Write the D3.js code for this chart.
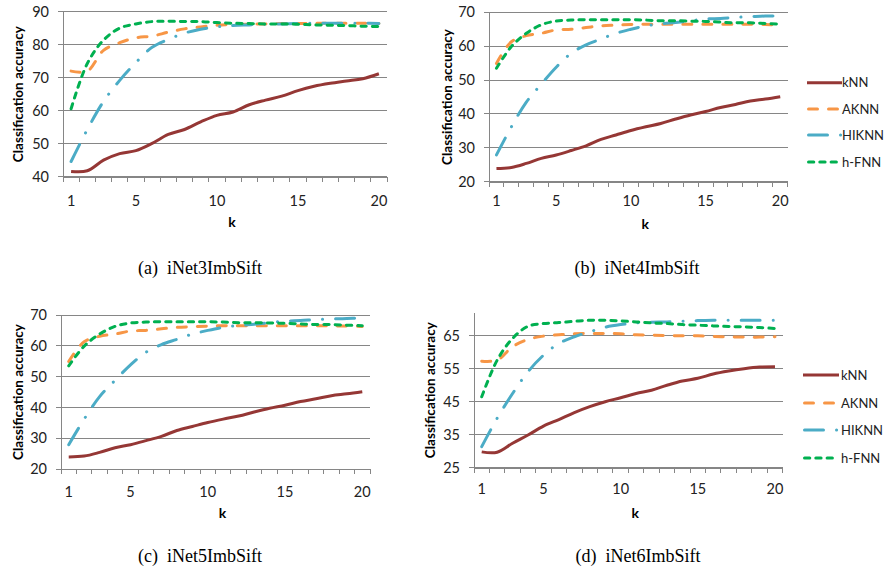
<!DOCTYPE html>
<html><head><meta charset="utf-8">
<script src="https://cdn.jsdelivr.net/npm/d3@7"></script>
<style>body{margin:0;background:#fff}svg{display:block}</style>
</head><body>
<svg id="chart" width="884" height="569"></svg>
<script>
const kValues = [1,2,3,4,5,6,7,8,9,10,11,12,13,14,15,16,17,18,19,20];
const xTickLabels = [1,5,10,15,20];
const seriesNames = ["kNN","AKNN","HIKNN","h-FNN"];

const a_kNN   = [41.6,41.8,45.0,47.0,47.9,50.1,52.8,54.3,56.6,58.6,59.6,61.8,63.2,64.4,66.1,67.4,68.3,69.0,69.7,71.2];
const a_AKNN  = [72.0,72.0,78.3,80.6,82.1,82.6,83.8,84.8,85.4,85.9,86.1,86.2,86.3,86.4,86.4,86.5,86.5,86.5,86.5,86.4];
const a_HIKNN = [44.6,54.3,62.8,69.2,74.6,79.2,81.6,83.5,84.7,85.4,85.8,86.0,86.2,86.3,86.4,86.5,86.5,86.5,86.5,86.4];
const a_hFNN  = [60.6,74.3,81.4,85.0,86.3,87.0,87.1,87.0,87.0,86.7,86.5,86.4,86.3,86.3,86.2,86.0,85.9,85.8,85.6,85.5];
const a_yTicks = [40,50,60,70,80,90];

const b_kNN   = [23.9,24.2,25.4,26.9,27.9,29.2,30.6,32.5,33.8,35.1,36.2,37.2,38.5,39.7,40.7,41.9,42.8,43.8,44.4,45.1];
const b_AKNN  = [54.9,61.3,63.1,63.8,64.8,65.0,65.5,66.0,66.2,66.4,66.5,66.5,66.5,66.5,66.5,66.5,66.5,66.5,66.4,66.3];
const b_HIKNN = [27.9,36.2,43.5,48.8,53.8,57.9,60.4,62.1,63.8,65.0,66.0,66.6,67.0,67.5,68.0,68.2,68.5,68.7,68.9,68.9];
const b_hFNN  = [53.5,59.9,63.8,66.3,67.4,67.7,67.8,67.8,67.8,67.8,67.7,67.5,67.5,67.4,67.3,67.1,66.9,66.9,66.7,66.5];
const b_yTicks = [20,30,40,50,60,70];

const c_kNN   = [23.9,24.2,25.4,26.9,27.9,29.2,30.6,32.5,33.8,35.1,36.2,37.2,38.5,39.7,40.7,41.9,42.8,43.8,44.4,45.1];
const c_AKNN  = [54.9,61.3,63.1,63.8,64.8,65.0,65.5,66.0,66.2,66.4,66.5,66.5,66.5,66.5,66.5,66.5,66.5,66.5,66.4,66.3];
const c_HIKNN = [27.9,36.2,43.5,48.8,53.8,57.9,60.4,62.1,63.8,65.0,66.0,66.6,67.0,67.5,68.0,68.2,68.5,68.7,68.9,68.9];
const c_hFNN  = [53.5,59.9,63.8,66.3,67.4,67.7,67.8,67.8,67.8,67.8,67.7,67.5,67.5,67.4,67.3,67.1,66.9,66.9,66.7,66.5];
const c_yTicks = [20,30,40,50,60,70];

const d_kNN   = [29.8,29.7,32.4,34.9,37.6,39.6,41.7,43.5,45.0,46.2,47.5,48.5,50.0,51.3,52.1,53.4,54.3,55.0,55.5,55.6];
const d_AKNN  = [57.3,57.6,61.7,63.9,64.9,65.3,65.6,65.7,65.7,65.6,65.3,65.2,65.1,65.0,65.0,64.8,64.7,64.6,64.6,64.7];
const d_HIKNN = [31.4,40.0,47.5,54.1,59.1,62.7,64.7,66.2,67.6,68.4,68.9,69.1,69.2,69.4,69.6,69.7,69.7,69.7,69.7,69.7];
const d_hFNN  = [46.5,57.6,64.2,67.9,68.7,69.0,69.4,69.7,69.7,69.5,69.2,68.9,68.7,68.4,68.2,68.0,67.8,67.7,67.5,67.2];
const d_yTicks = [25,35,45,55,65];

const captions = ["(a)  iNet3ImbSift","(b)  iNet4ImbSift","(c)  iNet5ImbSift","(d)  iNet6ImbSift"];

const colors = ["#953735","#F79646","#4BACC6","#00B050"];
const dashes = [null,"9,11","19,13,0.1,13","5.3,6"];
const GRID = "#868686";
const SANS = "Lato, 'Open Sans', sans-serif";

const panels = [
  {series:[a_kNN,a_AKNN,a_HIKNN,a_hFNN], yTicks:a_yTicks, ymin:40, ymax:90, left:63, right:387, top:11.7, bottom:176.7, lblOff:25, kY:222, titleX:18, caption:captions[0], capX:200, capY:274, legend:null},
  {series:[b_kNN,b_AKNN,b_HIKNN,b_hFNN], yTicks:b_yTicks, ymin:20, ymax:70, left:489, right:787.7, top:12.3, bottom:181.7, lblOff:20, kY:224, titleX:447.5, caption:captions[1], capX:637, capY:274, legend:{x0:808.5, x1:841, tx:842, ys:[82.7,109,135,162]}},
  {series:[c_kNN,c_AKNN,c_HIKNN,c_hFNN], yTicks:c_yTicks, ymin:20, ymax:70, left:61, right:370, top:315, bottom:469, lblOff:23, kY:513, titleX:18, caption:captions[2], capX:200, capY:562, legend:null},
  {series:[d_kNN,d_AKNN,d_HIKNN,d_hFNN], yTicks:d_yTicks, ymin:25, ymax:72, left:474, right:782.7, top:312.7, bottom:467.7, lblOff:22, kY:513, titleX:430, caption:captions[3], capX:638, capY:562, legend:{x0:804.5, x1:838, tx:841, ys:[375,403,430,458]}}
];

const svg = d3.select("#chart");

panels.forEach(p => {
  const g = svg.append("g");
  const x = d3.scaleBand().domain(kValues).range([p.left, p.right]).paddingInner(0).paddingOuter(0);
  const y = d3.scaleLinear().domain([p.ymin, p.ymax]).range([p.bottom, p.top]);
  const xc = k => x(k) + x.bandwidth()/2;

  // gridlines
  g.selectAll(".grid").data(p.yTicks).enter().append("line")
    .attr("x1", p.left - 5).attr("x2", p.right)
    .attr("y1", d => y(d)).attr("y2", d => y(d))
    .attr("stroke", GRID).attr("stroke-width", 1).attr("shape-rendering","crispEdges");

  // y axis
  const yAxis = d3.axisLeft(y).tickValues(p.yTicks).tickSize(0).tickPadding(14);
  const ya = g.append("g").attr("transform", `translate(${p.left},0)`).call(yAxis);
  ya.select(".domain").attr("stroke", GRID).attr("shape-rendering","crispEdges");
  ya.selectAll("text").attr("font-family", SANS).attr("font-size", 14.5).attr("fill", "#222");

  // x axis
  const xAxis = d3.axisBottom(x).tickSize(0).tickValues(xTickLabels).tickPadding(p.lblOff - 5);
  const xa = g.append("g").attr("transform", `translate(0,${p.bottom})`).call(xAxis);
  xa.select(".domain").attr("stroke", GRID).attr("shape-rendering","crispEdges");
  xa.selectAll("text").attr("font-family", SANS).attr("font-size", 14.5).attr("fill", "#222").attr("dy", "0.32em").attr("y", p.lblOff);
  // tick marks at band edges
  const edges = kValues.map(k => x(k)).concat([p.right]);
  g.selectAll(".xt").data(edges).enter().append("line")
    .attr("x1", d => d).attr("x2", d => d)
    .attr("y1", p.bottom).attr("y2", p.bottom + 5)
    .attr("stroke", GRID).attr("shape-rendering","crispEdges");

  // axis titles
  g.append("text").attr("x", (p.left + p.right)/2 + 7).attr("y", p.kY).attr("dy","0.35em")
    .attr("text-anchor","middle").attr("font-family", SANS).attr("font-weight","bold").attr("font-size", 14).text("k");
  g.append("text").attr("transform", `translate(${p.titleX},${(p.top + p.bottom)/2}) rotate(-90)`)
    .attr("dy","0.35em").attr("text-anchor","middle").attr("font-family", SANS).attr("font-weight","bold").attr("font-size", 13.5)
    .text("Classification accuracy");

  // lines
  const line = d3.line().x((d,i) => xc(kValues[i])).y(d => y(d)).curve(d3.curveCatmullRom.alpha(0.5));
  p.series.forEach((s, i) => {
    g.append("path").attr("d", line(s)).attr("fill","none")
      .attr("stroke", colors[i]).attr("stroke-width", 3)
      .attr("stroke-linecap", i === 0 ? "butt" : "round")
      .attr("stroke-linejoin","round")
      .attr("stroke-dasharray", dashes[i]);
  });

  // caption
  svg.append("text").attr("x", p.capX).attr("y", p.capY).attr("text-anchor","middle")
    .attr("font-family","'Liberation Serif', 'Times New Roman', serif").attr("font-size", 18)
    .attr("xml:space","preserve").style("white-space","pre").text(p.caption);

  // legend
  if (p.legend) {
    const L = p.legend;
    seriesNames.forEach((name, i) => {
      svg.append("line").attr("x1", i === 0 ? L.x0 - 1.5 : L.x0).attr("x2", i === 0 ? L.x1 + 1 : L.x1)
        .attr("y1", L.ys[i]).attr("y2", L.ys[i])
        .attr("stroke", colors[i]).attr("stroke-width", 3)
        .attr("stroke-linecap", i === 0 ? "butt" : "round")
        .attr("stroke-dasharray", dashes[i]);
      svg.append("text").attr("x", L.tx).attr("y", L.ys[i]).attr("dy","0.35em")
        .attr("font-family", SANS).attr("font-size", 13).attr("fill","#222").text(name);
    });
  }
});
</script>
</body></html>
